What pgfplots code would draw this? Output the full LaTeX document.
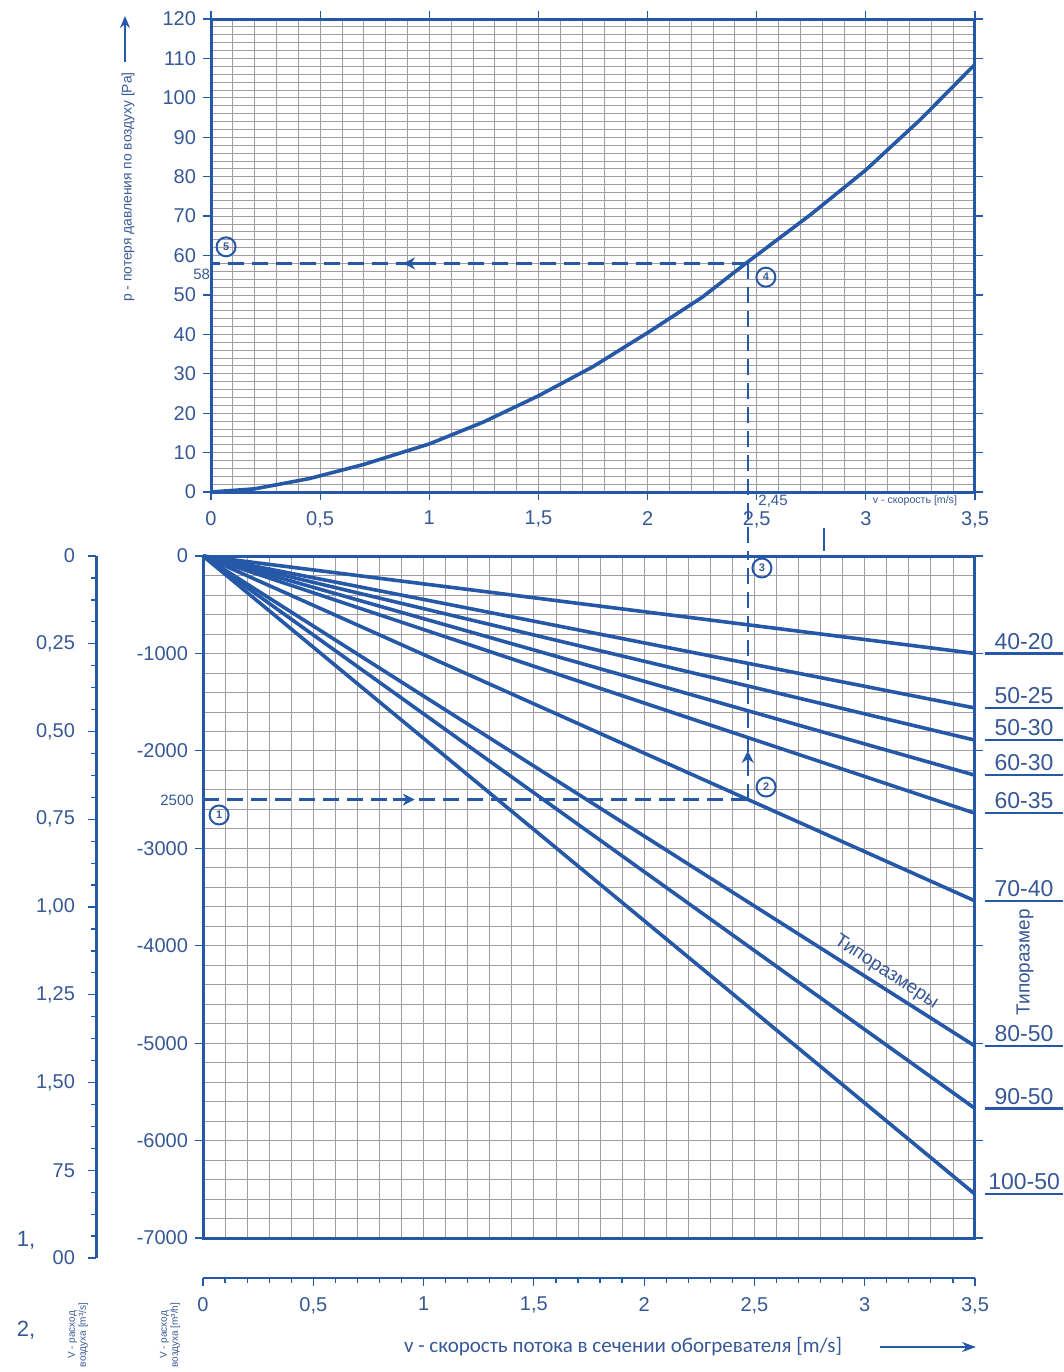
\documentclass[border=0pt]{standalone}
\usepackage{pgfplots}
\pgfplotsset{compat=1.18}
\usepackage{pgfplotstable}
\usepackage{fontspec}
\setmainfont{Liberation Sans}
\newfontfamily\carlito{Carlito}
\usetikzlibrary{arrows.meta}
\definecolor{lb}{RGB}{38,88,168}
\definecolor{tb}{RGB}{55,88,150}
\definecolor{gridc}{RGB}{162,156,160}

\pgfplotstableread{
x y
0 0
0.2 0.8
0.45 3.4
0.7 7
1.0 12.2
1.25 17.8
1.5 24.4
1.75 31.8
2.0 40.4
2.25 49.4
2.45 58
2.75 70.5
3.0 81.7
3.25 94.5
3.5 108.5
}\pcurve

\tikzset{circnum/.style={circle,draw=lb,line width=1pt,minimum size=9.5pt,inner sep=0pt,text=tb,font=\fontsize{5.5}{5.5}\selectfont\bfseries}}

\begin{document}
\begin{tikzpicture}
\path[use as bounding box] (0,0) rectangle (532pt,-686pt);

% ---------------- top chart ----------------
\begin{axis}[
 at={(105.5pt,-246pt)}, anchor=south west, scale only axis,
 width=382pt, height=236.5pt,
 xmin=0, xmax=3.5, ymin=0, ymax=120,
 xtick={0,0.5,...,3.5}, xticklabels={0,{0,5},1,{1,5},2,{2,5},3,{3,5}},
 ytick={0,10,...,120}, yticklabels={0,10,20,30,40,50,60,70,80,90,100,110,120},
 minor x tick num=4, minor y tick num=4,
 grid=both, grid style={gridc, line width=0.4pt}, minor grid style={gridc, line width=0.4pt},
 major grid style={gridc, line width=0.4pt},
 axis line style={lb, line width=1.5pt},
 tick align=outside, major tick length=4pt, minor tick length=0pt,
 tick style={lb, line width=0.6pt},
 ticklabel style={font=\fontsize{10}{12}\selectfont, text=tb},
 xticklabel style={yshift=-2pt},
 clip=false,
]
\addplot[lb, line width=1.8pt] table[x=x,y=y] {\pcurve};
% guide lines
\addplot[lb, line width=1.2pt, dash pattern=on 8pt off 4pt] coordinates {(2.46,58) (0,58)};
\addplot[lb, line width=1.2pt, dash pattern=on 8pt off 4pt] coordinates {(2.46,58) (2.46,-16.2)};
\addplot[lb, line width=1.2pt, -{Stealth[length=6pt,width=6pt]}] coordinates {(0.98,58) (0.88,58)};
% annotations
\node[circnum] at (axis cs:2.542,54.5) {4};
\node[circnum] at (axis cs:0.069,62.2) {5};
\node[text=tb, font=\fontsize{7.5}{8}\selectfont, anchor=east, inner sep=0pt] at (axis cs:-0.003,55.3) {58};
\node[text=tb, font=\fontsize{7.5}{8}\selectfont, inner sep=0pt] at (axis cs:2.575,-2.4) {2,45};
\node[text=tb, font=\fontsize{5.3}{6}\selectfont, inner sep=0pt] at (axis cs:3.225,-2.3) {v - скорость [m/s]};
\end{axis}

% ---------------- bottom chart ----------------
\begin{axis}[
 at={(101.5pt,-619pt)}, anchor=south west, scale only axis,
 width=386pt, height=341pt,
 xmin=0, xmax=3.5, ymin=-7000, ymax=0,
 xtick={0,0.5,...,3.5}, xticklabels={},
 ytick={-7000,-6000,...,0}, yticklabels={-7000,-6000,-5000,-4000,-3000,-2000,-1000,0},
 minor x tick num=4, minor y tick num=4,
 grid=both, grid style={gridc, line width=0.4pt}, minor grid style={gridc, line width=0.4pt},
 major grid style={gridc, line width=0.4pt},
 axis line style={lb, line width=1.5pt},
 tick align=outside, major tick length=4pt, minor tick length=0pt,
 tick style={lb, line width=0.6pt},
 x tick style={draw=none},
 ticklabel style={font=\fontsize{10}{12}\selectfont, text=tb},
 clip=false,
]
\addplot[lb, line width=1.8pt] coordinates {(0,0) (3.5,-1000)};
\addplot[lb, line width=1.8pt] coordinates {(0,0) (3.5,-1560)};
\addplot[lb, line width=1.8pt] coordinates {(0,0) (3.5,-1890)};
\addplot[lb, line width=1.8pt] coordinates {(0,0) (3.5,-2250)};
\addplot[lb, line width=1.8pt] coordinates {(0,0) (3.5,-2640)};
\addplot[lb, line width=1.8pt] coordinates {(0,0) (3.5,-3540)};
\addplot[lb, line width=1.8pt] coordinates {(0,0) (3.5,-5030)};
\addplot[lb, line width=1.8pt] coordinates {(0,0) (3.5,-5670)};
\addplot[lb, line width=1.8pt] coordinates {(0,0) (3.5,-6550)};
% guide lines
\addplot[lb, line width=1.2pt, dash pattern=on 8pt off 4pt] coordinates {(0,-2500) (2.47,-2500)};
\addplot[lb, line width=1.2pt, dash pattern=on 8pt off 4pt] coordinates {(2.47,-2500) (2.47,0)};
\addplot[lb, line width=1.2pt, -{Stealth[length=6pt,width=6pt]}] coordinates {(0.86,-2500) (0.96,-2500)};
\addplot[lb, line width=1.2pt, -{Stealth[length=6pt,width=6pt]}] coordinates {(2.47,-2190) (2.47,-2000)};
% labels of series
\foreach \v/\t in {-1000/40-20,-1560/50-25,-1890/50-30,-2250/60-30,-2640/60-35,-3540/70-40,-5030/80-50,-5670/90-50,-6550/100-50}{
 \edef\tmp{\noexpand\draw[lb, line width=1.1pt] (axis cs:3.545,\v) -- (axis cs:3.9,\v) node[midway, above, inner sep=1.5pt, text=tb, font=\noexpand\fontsize{11.5}{12}\noexpand\selectfont] {\t};}
 \tmp
}
\node[rotate=90, text=tb, font=\fontsize{9.5}{10}\selectfont] at (axis cs:3.727,-4170) {Типоразмер};
\node[rotate=-33, text=tb, font=\fontsize{9.5}{10}\selectfont, inner sep=0pt] at (axis cs:3.097,-4270) {Типоразмеры};
\node[circnum] at (axis cs:0.073,-2658) {1};
\node[circnum] at (axis cs:2.553,-2371) {2};
\node[circnum] at (axis cs:2.534,-123) {3};
\node[text=tb, font=\fontsize{7.5}{8}\selectfont, anchor=east, inner sep=0pt] at (axis cs:-0.04,-2504) {2500};
\end{axis}

% ---------------- separate x axis under bottom chart ----------------
\begin{axis}[
 at={(101.5pt,-639pt)}, anchor=south west, scale only axis,
 width=386pt, height=1pt,
 xmin=0, xmax=3.5, ymin=0, ymax=1,
 axis x line=bottom, axis y line=none,
 xtick={0,0.5,...,3.5}, xticklabels={0,{0,5},1,{1,5},2,{2,5},3,{3,5}},
 minor x tick num=4,
 axis line style={lb, line width=1.2pt, -},
 tick align=outside, major tick length=4pt, minor tick length=2.5pt,
 tick style={lb, line width=0.6pt},
 ticklabel style={font=\fontsize{10}{12}\selectfont, text=tb},
 xticklabel style={yshift=-2pt},
]
\addplot[draw=none] coordinates {(0,0) (3.5,1)};
\end{axis}

% ---------------- left extra scale ----------------
\begin{axis}[
 at={(48pt,-629pt)}, anchor=south west, scale only axis,
 width=1pt, height=351pt,
 xmin=0, xmax=1, ymin=0, ymax=2, y dir=reverse,
 axis y line=left, axis x line=none,
 ytick={0,0.25,...,2}, yticklabels={0,{0,25},{0,50},{0,75},{1,00},{1,25},{1,50},75,00},
 minor y tick num=3,
 axis line style={lb, line width=1.5pt, -},
 tick align=outside, major tick length=4pt, minor tick length=2.5pt,
 tick style={lb, line width=0.6pt},
 ticklabel style={font=\fontsize{10}{12}\selectfont, text=tb},
 yticklabel style={xshift=-3pt},
]
\addplot[draw=none] coordinates {(0,0) (1,2)};
\end{axis}

% ---------------- free annotations (pixel units) ----------------
\begin{scope}[x=0.5pt, y=-0.5pt]
\node[rotate=90, text=tb, font=\fontsize{6.9}{7}\selectfont] at (128,187) {p - потеря давления по воздуху [Pa]};
\draw[lb, line width=0.9pt, -{Stealth[length=6pt,width=5pt]}] (125,62) -- (125,16);
\draw[lb, line width=1pt] (824,528) -- (824,551);
\node[text=tb, font=\fontsize{11}{12}\selectfont] at (26,1240) {1,};
\node[text=tb, font=\fontsize{11}{12}\selectfont] at (26,1330) {2,};
\node[rotate=90, text=tb, align=center, font=\fontsize{5}{5.5}\selectfont] at (78,1335) {V - расход\\воздуха [m³/s]};
\node[rotate=90, text=tb, align=center, font=\fontsize{5}{5.5}\selectfont] at (170,1335) {V - расход\\воздуха [m³/h]};
\node[text=tb, font=\carlito\fontsize{10.5}{12}\selectfont] at (623,1347) {v - скорость потока в сечении обогревателя [m/s]};
\draw[lb, line width=0.9pt, -{Stealth[length=7pt,width=5pt]}] (880,1347) -- (976,1347);
\end{scope}
\end{tikzpicture}
\end{document}
